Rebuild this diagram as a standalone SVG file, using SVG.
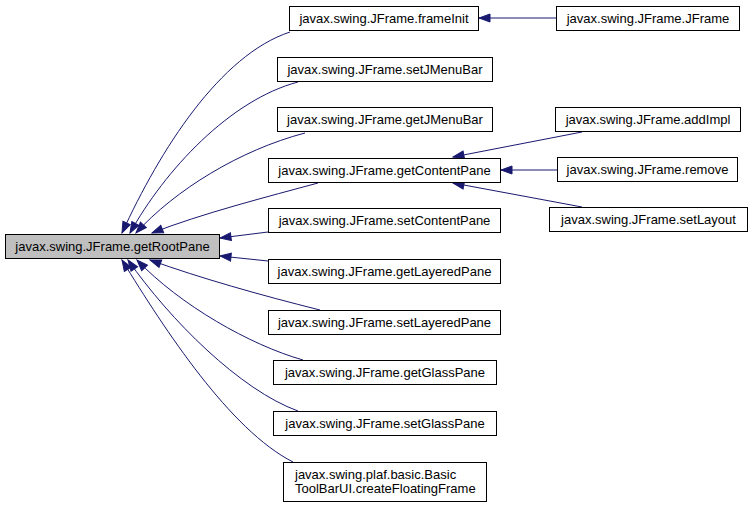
<svg xmlns="http://www.w3.org/2000/svg" width="751" height="509" viewBox="0 0 751 509">
<style>
  .box { fill: #ffffff; stroke: #000000; stroke-width: 1; }
  .root { fill: #bfbfbf; stroke: #000000; stroke-width: 1; }
  .lbl { font-family: "Liberation Sans", Arial, sans-serif; font-size: 13px; fill: #000000; text-anchor: middle; }
  .lbl-l { font-family: "Liberation Sans", Arial, sans-serif; font-size: 13px; fill: #000000; text-anchor: start; }
  .edge { fill: none; stroke: #191970; stroke-width: 1; marker-end: url(#arrow); }
</style>
<defs>
  <marker id="arrow" markerUnits="userSpaceOnUse" markerWidth="11" markerHeight="8" refX="11" refY="4" orient="auto" overflow="visible">
    <path d="M0,0 L11,4 L0,8 z" fill="#191970" stroke="#191970" stroke-width="1"/>
  </marker>
</defs>
<rect width="751" height="509" fill="#ffffff"/>
<g id="connectors">
  <path class="edge" d="M556,18 L479,18"/>
  <path class="edge" d="M290,32 C220,55 160,150 122,233"/>
  <path class="edge" d="M298,82 C230,100 165,170 130,233"/>
  <path class="edge" d="M305,133 C240,150 175,190 136,233"/>
  <path class="edge" d="M318,183 C270,196 200,214 152,233"/>
  <path class="edge" d="M268,232 L220,238"/>
  <path class="edge" d="M268,261 L220,256"/>
  <path class="edge" d="M320,310 C260,295 200,278 150,260"/>
  <path class="edge" d="M303,360 C250,345 180,305 137,260"/>
  <path class="edge" d="M298,411 C240,390 170,320 128,260"/>
  <path class="edge" d="M293,462 C230,430 165,330 122,260"/>
  <path class="edge" d="M582,132 L453,157"/>
  <path class="edge" d="M557,170 L501,170"/>
  <path class="edge" d="M582,207 L453,183"/>
</g>
<g id="node-getRootPane">
  <rect class="root" x="5.5" y="234.5" width="214" height="24"/>
  <text class="lbl" x="112.5" y="251">javax.swing.JFrame.getRootPane</text>
</g>
<g id="node-frameInit">
  <rect class="box" x="289.5" y="6.5" width="189" height="24"/>
  <text class="lbl" x="384" y="23">javax.swing.JFrame.frameInit</text>
</g>
<g id="node-JFrame">
  <rect class="box" x="556.5" y="6.5" width="183" height="24"/>
  <text class="lbl" x="648" y="23">javax.swing.JFrame.JFrame</text>
</g>
<g id="node-setJMenuBar">
  <rect class="box" x="277.5" y="57.5" width="215" height="24"/>
  <text class="lbl" x="385" y="74">javax.swing.JFrame.setJMenuBar</text>
</g>
<g id="node-getJMenuBar">
  <rect class="box" x="277.5" y="107.5" width="215" height="24"/>
  <text class="lbl" x="385" y="124">javax.swing.JFrame.getJMenuBar</text>
</g>
<g id="node-getContentPane">
  <rect class="box" x="268.5" y="158.5" width="232" height="24"/>
  <text class="lbl" x="384.5" y="175">javax.swing.JFrame.getContentPane</text>
</g>
<g id="node-addImpl">
  <rect class="box" x="555.5" y="107.5" width="185" height="24"/>
  <text class="lbl" x="648" y="124">javax.swing.JFrame.addImpl</text>
</g>
<g id="node-remove">
  <rect class="box" x="557.5" y="157.5" width="180" height="24"/>
  <text class="lbl" x="647.5" y="174">javax.swing.JFrame.remove</text>
</g>
<g id="node-setLayout">
  <rect class="box" x="549.5" y="207.5" width="198" height="24"/>
  <text class="lbl" x="648.5" y="224">javax.swing.JFrame.setLayout</text>
</g>
<g id="node-setContentPane">
  <rect class="box" x="268.5" y="208.5" width="232" height="24"/>
  <text class="lbl" x="384.5" y="225">javax.swing.JFrame.setContentPane</text>
</g>
<g id="node-getLayeredPane">
  <rect class="box" x="268.5" y="259.5" width="232" height="24"/>
  <text class="lbl" x="384.5" y="276">javax.swing.JFrame.getLayeredPane</text>
</g>
<g id="node-setLayeredPane">
  <rect class="box" x="268.5" y="310.5" width="232" height="24"/>
  <text class="lbl" x="384.5" y="327">javax.swing.JFrame.setLayeredPane</text>
</g>
<g id="node-getGlassPane">
  <rect class="box" x="273.5" y="360.5" width="223" height="24"/>
  <text class="lbl" x="385" y="377">javax.swing.JFrame.getGlassPane</text>
</g>
<g id="node-setGlassPane">
  <rect class="box" x="273.5" y="411.5" width="223" height="24"/>
  <text class="lbl" x="385" y="428">javax.swing.JFrame.setGlassPane</text>
</g>
<g id="node-createFloatingFrame">
  <rect class="box" x="283.5" y="462.5" width="203" height="39"/>
  <text class="lbl-l" x="295" y="479">javax.swing.plaf.basic.Basic</text>
  <text class="lbl-l" x="295" y="493">ToolBarUI.createFloatingFrame</text>
</g>
</svg>
